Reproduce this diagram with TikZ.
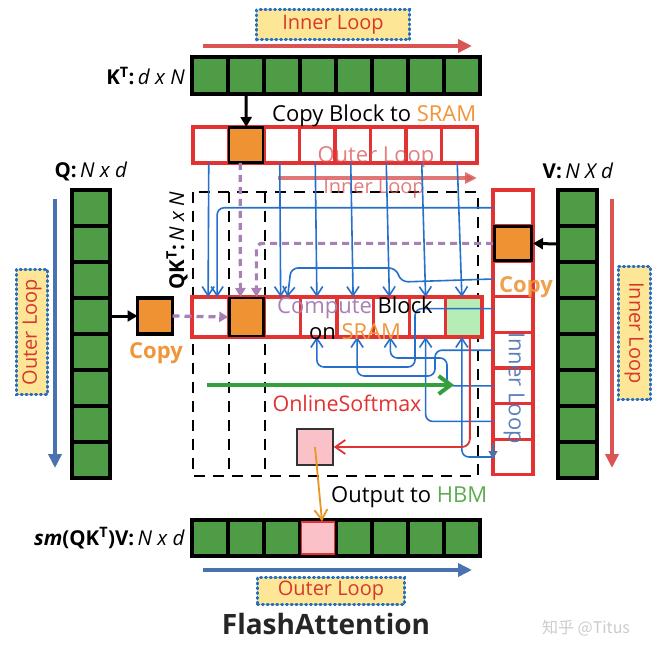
\documentclass[tikz,border=0pt]{standalone}
\usepackage{fontspec}
\setmainfont{Open Sans}
\newfontfamily\cjkfont{Noto Sans CJK SC}
\usetikzlibrary{arrows.meta}
\definecolor{cellgreen}{RGB}{78,156,70}
\definecolor{sred}{RGB}{226,50,50}
\definecolor{lred}{RGB}{218,84,84}
\definecolor{lblue}{RGB}{74,114,176}
\definecolor{bblue}{RGB}{38,112,204}
\definecolor{orng}{RGB}{238,146,52}
\definecolor{purp}{RGB}{168,128,182}
\definecolor{lgreen}{RGB}{182,236,182}
\definecolor{pinkc}{RGB}{250,194,200}
\definecolor{ylw}{RGB}{253,230,150}
\definecolor{dotblue}{RGB}{40,110,190}
\definecolor{txtred}{RGB}{215,55,45}
\definecolor{hbmgreen}{RGB}{96,172,80}
\definecolor{sramorange}{RGB}{240,150,58}
\definecolor{ggreen}{RGB}{52,160,60}
\definecolor{oline}{RGB}{236,150,30}
\tikzset{
  hbm/.style={draw=black, line width=4pt, fill=cellgreen, minimum width=36pt, minimum height=37pt, inner sep=0pt, outer sep=0pt},
  sram/.style={draw=sred, line width=3.3pt, fill=white, inner sep=0pt, outer sep=0pt},
  orangecell/.style={draw=black, line width=2.4pt, fill=orng, inner sep=0pt, outer sep=0pt},
  loopbox/.style={draw=dotblue, line width=3pt, dash pattern=on 1.2pt off 3.6pt, line cap=round, fill=ylw, inner sep=0pt, text=txtred, font=\fontsize{20}{22}\selectfont},
  looparrowr/.style={draw=lred, line width=4pt, -{Triangle[length=14pt,width=13pt]}},
  looparrowb/.style={draw=lblue, line width=4pt, -{Triangle[length=14pt,width=13pt]}},
  blackarrow/.style={draw=black, line width=3pt, -{Triangle[length=10pt,width=11pt]}},
  bl/.style={draw=bblue, line width=1.6pt, rounded corners=7pt, -{Straight Barb[length=9pt,width=12pt]}},
  purpdash/.style={draw=purp, line width=3.2pt, dash pattern=on 7pt off 5pt, rounded corners=6pt, -{Triangle[length=9pt,width=10pt]}},
  qkframe/.style={draw=black, line width=1.8pt, dash pattern=on 11pt off 8pt},
  lbl/.style={font=\fontsize{20.5}{23}\selectfont, inner sep=0pt},
  big/.style={font=\fontsize{22}{26}\selectfont, inner sep=0pt},
}
\begin{document}
\begin{tikzpicture}[x=1pt,y=-1pt]
\useasboundingbox (0,0) rectangle (659,655);
\fill[white] (0,0) rectangle (659,655);

% dashed QK^T frame
\draw[qkframe] (193,192) rectangle (478,476);
\draw[qkframe] (229,192) -- (229,476);
\draw[qkframe] (265,192) -- (265,476);

% K^T row
\foreach \i in {1,...,8} \node[hbm] (k\i) at ({174+36*\i},76) {};
\node[lbl, anchor=east] (klabel) at (185,76) {{\bfseries K\textsuperscript{T}:}\,\textit{d x N}};

% top inner loop
\node[loopbox, minimum width=153pt, minimum height=30pt] (topil) at (333,25) {Inner Loop};
\coordinate (ta1) at (203,46);
\coordinate (ta2) at (472,46);
\draw[looparrowr] (ta1) -- (ta2);

% K SRAM row
\foreach \i in {1,...,8} \node[sram, minimum width=35.5pt, minimum height=36pt] (kr\i) at ({175.25+35.5*\i},145) {};
\node[orangecell, minimum width=34pt, minimum height=35pt] (kro) at (kr2) {};
\draw[blackarrow] (k2.south) -- (kr2.north);
\node[big, anchor=west] (cpytxt) at (272,116) {Copy Block to \textcolor{sramorange}{SRAM}};

% faded labels
\node[font=\fontsize{22}{24}\selectfont, text=lred, opacity=0.75] (fol) at (376,157) {Outer Loop};
\coordinate (fa1) at (278,178);
\coordinate (fa2) at (477,178);
\draw[draw=lred, line width=3.5pt, opacity=0.8, -{Triangle[length=12pt,width=11pt]}] (fa1) -- (fa2);
\node[font=\fontsize{20}{22}\selectfont, text=lred, opacity=0.75] (fil) at (374,189) {Inner Loop};

% Q column
\foreach \i in {1,...,8} \node[hbm, minimum width=38pt, minimum height=36pt] (q\i) at (91,{190+36*(\i-0.5)}) {};
\node[lbl] (qlabel) at (91,171) {{\bfseries Q:}\,\textit{N x d}};
\coordinate (la1) at (55,199);
\coordinate (la2) at (55,468);
\draw[looparrowb] (la1) -- (la2);
\node[loopbox, minimum width=125pt, minimum height=31pt, rotate=90] (leftol) at (32,332) {Outer Loop};

% copy square
\node[orangecell, line width=3.2pt, minimum width=35pt, minimum height=36pt] (cp) at (155,316) {};
\draw[blackarrow] (q4.east) -- (cp.west);
\node[font=\bfseries\fontsize{22}{24}\selectfont, text=sramorange] (cptxt) at (156,353) {Copy};

% QK^T label
\node[lbl, rotate=90] (qklabel) at (177,241) {{\bfseries QK\textsuperscript{T}:}\,\textit{N x N}};

% V column
\foreach \i in {1,...,8} \node[hbm, minimum width=39pt, minimum height=36pt] (v\i) at (577.5,{190+36*(\i-0.5)}) {};
\node[lbl] (vlabel) at (578,171) {{\bfseries V:}\,\textit{N X d}};
\coordinate (ra1) at (612,199);
\coordinate (ra2) at (612,468);
\draw[looparrowr] (ra1) -- (ra2);
\node[loopbox, minimum width=133pt, minimum height=32pt, rotate=-90] (rightil) at (634,333) {Inner Loop};

% V SRAM column
\foreach \i in {1,...,8} \node[sram, minimum width=40pt, minimum height=35.6pt] (vr\i) at (513,{190+35.6*(\i-0.5)}) {};
\node[orangecell, minimum width=37pt, minimum height=34pt] (vro) at (vr2) {};
\draw[blackarrow] (v2.west) -- (vr2.east);

% QK row on SRAM
\foreach \i in {1,...,8} \node[sram, minimum width=36.25pt, minimum height=40pt] (qk\i) at ({192+36.25*(\i-0.5)},317) {};
\node[orangecell, minimum width=34pt, minimum height=38pt] (qko) at (qk2) {};
\node[sram, fill=lgreen, minimum width=36.25pt, minimum height=40pt] (qkg) at (qk8) {};

% blue lines from K row
\foreach \i in {1,3,4,5,6,7,8} \draw[bl] ([xshift=-2pt]kr\i.south) -- ([xshift=-2pt]qk\i.north);
% blue lines from V column (above row)
\draw[bl] (vr1.west) -| ([xshift=7pt]qk1.north);
\draw[bl] (vr3.west) -- (401,282) -- (396,268) -- (291,268) -- ([xshift=5pt]qk3.north);
% blue lines from V column (below row)
\draw[bl] ([yshift=6pt]vr4.west) -| (415,367) -| ([xshift=-2pt]qk4.south);
\draw[bl] (vr5.west) -| (435,376) -| ([xshift=2pt]qk5.south);
\draw[bl] (vr6.west) -| (447,358) -| ([xshift=-1pt]qk6.south);
\draw[bl] (vr7.west) -| ([xshift=-2pt]qk7.south);
\draw[bl] (vr8.west) -| ([xshift=-2pt]qk8.south);
\coordinate (bt1) at (493,444);
\coordinate (bt2) at (493,459);
\draw[draw=lblue, line width=1.3pt, -{Triangle[length=8pt,width=9pt]}] (bt1) -- (bt2);

% purple dashed
\draw[purpdash] ([xshift=-6pt]kr2.south) -- ([xshift=-6pt]qk2.north);
\draw[purpdash] (vr2.west) -| ([xshift=10pt]qk2.north);
\draw[purpdash] (cp.east) -- (qk2.west);

% texts on the row and V column
\node[big, align=center] (ctext) at (355,318) {\textcolor{purp}{Compute} Block\\on \textcolor{sramorange}{SRAM}};
\node[font=\bfseries\fontsize{22}{24}\selectfont, text=sramorange, opacity=0.9] (cptxt2) at (526,287) {Copy};
\node[font=\fontsize{22}{24}\selectfont, text=lblue, rotate=-90, opacity=0.9] (vil) at (514,388) {Inner Loop};

% green online softmax arrow
\coordinate (g1) at (207,385);
\coordinate (g2) at (454,385);
\draw[draw=ggreen, line width=4pt, -{Straight Barb[length=12pt,width=18pt]}] (g1) -- (g2);
\node[font=\fontsize{21.5}{24}\selectfont, text=sred] (osm) at (347,403) {OnlineSoftmax};

% pink block and output
\node[draw=black!80, line width=1.5pt, fill=pinkc, minimum width=36pt, minimum height=36pt, inner sep=0pt] (pk) at (315,447) {};
\draw[draw=sred, line width=1.8pt, rounded corners=8pt, -{Straight Barb[length=10pt,width=14pt]}] ([xshift=6pt]qk8.south) |- (pk.east);

% output row
\foreach \i in {1,...,8} \node[hbm, minimum height=36pt] (o\i) at ({174+36*\i},538) {};
\node[draw=sred, line width=1.5pt, fill=pinkc, minimum width=33pt, minimum height=32pt, inner sep=0pt] (o4p) at (o4) {};
\draw[draw=oline, line width=1.8pt, -{Straight Barb[length=10pt,width=13pt]}] (pk.center) -- ([xshift=4pt]o4p.north);
\node[big, anchor=west] (outtxt) at (331,497) {Output to \textcolor{hbmgreen}{HBM}};
\node[lbl, anchor=east] (olabel) at (185,538) {{\bfseries\itshape sm}{\bfseries(QK\textsuperscript{T})V:}\,\textit{N x d}};

\coordinate (ba1) at (203,570);
\coordinate (ba2) at (472,570);
\draw[looparrowb] (ba1) -- (ba2);
\node[loopbox, minimum width=147pt, minimum height=27pt] (botol) at (331,591) {Outer Loop};
\node[font=\bfseries\fontsize{28}{32}\selectfont, text=black!85] (title) at (326,624) {FlashAttention};

\node[font=\cjkfont\fontsize{16}{18}\selectfont, text=gray!40] (wm) at (586,628) {知乎 @Titus};
\end{tikzpicture}
\end{document}
